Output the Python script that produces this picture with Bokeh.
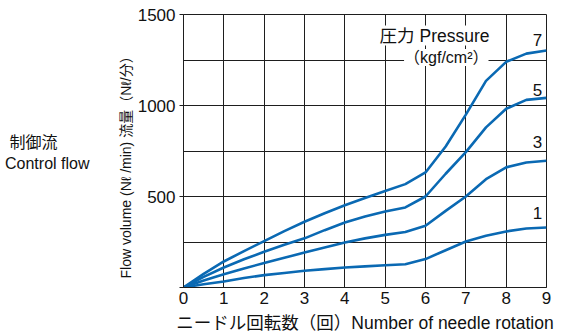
from bokeh.plotting import figure
from bokeh.models import Label, FixedTicker, Range1d, Title, LinearAxis
from bokeh.embed import file_html
from bokeh.resources import INLINE

# ---- data ----
rotations = [0, 0.5, 1, 1.5, 2, 2.5, 3, 3.5, 4, 4.5, 5, 5.5, 6, 6.5, 7, 7.5, 8, 8.5, 9]
flow_p1 = [0, 18, 33, 52, 68, 80, 92, 101, 110, 116, 122, 128, 156, 205, 253, 284, 308, 324, 330]
flow_p3 = [0, 38, 73, 105, 134, 163, 192, 220, 247, 270, 289, 305, 339, 421, 500, 595, 660, 687, 696]
flow_p5 = [0, 58, 110, 155, 196, 235, 270, 315, 357, 390, 418, 440, 500, 625, 744, 880, 982, 1031, 1042]
flow_p7 = [0, 75, 143, 200, 255, 310, 361, 408, 452, 492, 530, 568, 632, 775, 950, 1135, 1240, 1285, 1302]
pressure_names = ["1", "3", "5", "7"]
x_ticks = [0, 1, 2, 3, 4, 5, 6, 7, 8, 9]
y_ticks = [0, 500, 1000, 1500]
y_grid = [0, 250, 500, 750, 1000, 1250, 1500]
side_ticks = [797, 681]
side_texts = ["制御流\u3000\u3000", "Control flow"]

BLUE = "#0a69b3"
INK = "#1e1e1e"
LAT = "Liberation Sans, Noto Sans CJK JP"

W, H = 567, 336
FL, FR, FT, FB = 183, 546, 14, 287

p = figure(width=W, height=H, output_backend="svg", toolbar_location=None,
           x_range=Range1d(0, 9), y_range=Range1d(0, 1500),
           min_border_left=FL, min_border_right=W - FR,
           min_border_top=FT, min_border_bottom=H - FB,
           margin=(0, 0, 0, 0), background_fill_color="white",
           border_fill_color="white")

p.outline_line_color = INK
p.outline_line_width = 1
p.xgrid.ticker = FixedTicker(ticks=x_ticks)
p.ygrid.ticker = FixedTicker(ticks=y_grid)
for g in (p.xgrid, p.ygrid):
    g.grid_line_color = INK
    g.grid_line_width = 1
    g.grid_line_alpha = 1

p.xaxis.ticker = FixedTicker(ticks=x_ticks)
p.yaxis.ticker = FixedTicker(ticks=y_ticks)
p.yaxis.major_label_overrides = {0: ""}
for ax in (p.xaxis, p.yaxis):
    ax.axis_line_color = INK
    ax.major_tick_line_color = INK
    ax.minor_tick_line_color = None
    ax.major_tick_in = 0
    ax.major_label_text_font = LAT
    ax.major_label_text_font_size = "17px"
    ax.major_label_text_color = "#111111"
p.xaxis.major_tick_out = 0
p.xaxis.major_label_standoff = 4
p.yaxis.major_tick_out = 4
p.yaxis.major_label_standoff = 4

# x axis title
p.xaxis.axis_label = "ニードル回転数（回）Number of needle rotation"
p.xaxis.axis_label_text_font = LAT
p.xaxis.axis_label_text_font_size = "17.5px"
p.xaxis.axis_label_text_font_style = "normal"
p.xaxis.axis_label_text_color = "#111111"
p.xaxis.axis_label_standoff = 6

# y axis title (vertical, next to the tick labels)
p.add_layout(Title(text="Flow volume (Nℓ /min)  流量（Nℓ/分）", align="left", offset=9,
                   standoff=2, text_font=LAT, text_font_size="14px",
                   text_font_style="normal", text_color="#111111"), "left")

# neighbouring panel's caption, further left
side = LinearAxis(ticker=FixedTicker(ticks=side_ticks),
                  major_label_overrides=dict(zip(side_ticks, side_texts)),
                  axis_line_color=None, major_tick_line_color=None,
                  minor_tick_line_color=None, major_label_standoff=19,
                  major_label_text_font=LAT, major_label_text_font_size="16px",
                  major_label_text_color="#111111")
p.add_layout(side, "left")

for ys in (flow_p1, flow_p3, flow_p5, flow_p7):
    p.line(rotations, ys, line_color=BLUE, line_width=2.6)


def lab(text, px, py, size, align="center", bg=None):
    p.add_layout(Label(x=px - FL, y=FB - py, x_units="screen", y_units="screen",
                       text=text, text_font=LAT, text_font_size=size,
                       text_align=align, text_baseline="middle",
                       text_color="#111111", background_fill_color=bg))


# pressure curve labels
for name, py in zip(pressure_names, [212, 141, 89, 39]):
    lab(name, 537, py, "17px")

# legend title
lab("圧力 Pressure", 489, 35, "17.5px", align="right", bg="white")
lab("（kgf/cm²）", 488, 57, "16px", align="right", bg="white")

open("out.html", "w").write(file_html(p, INLINE))
